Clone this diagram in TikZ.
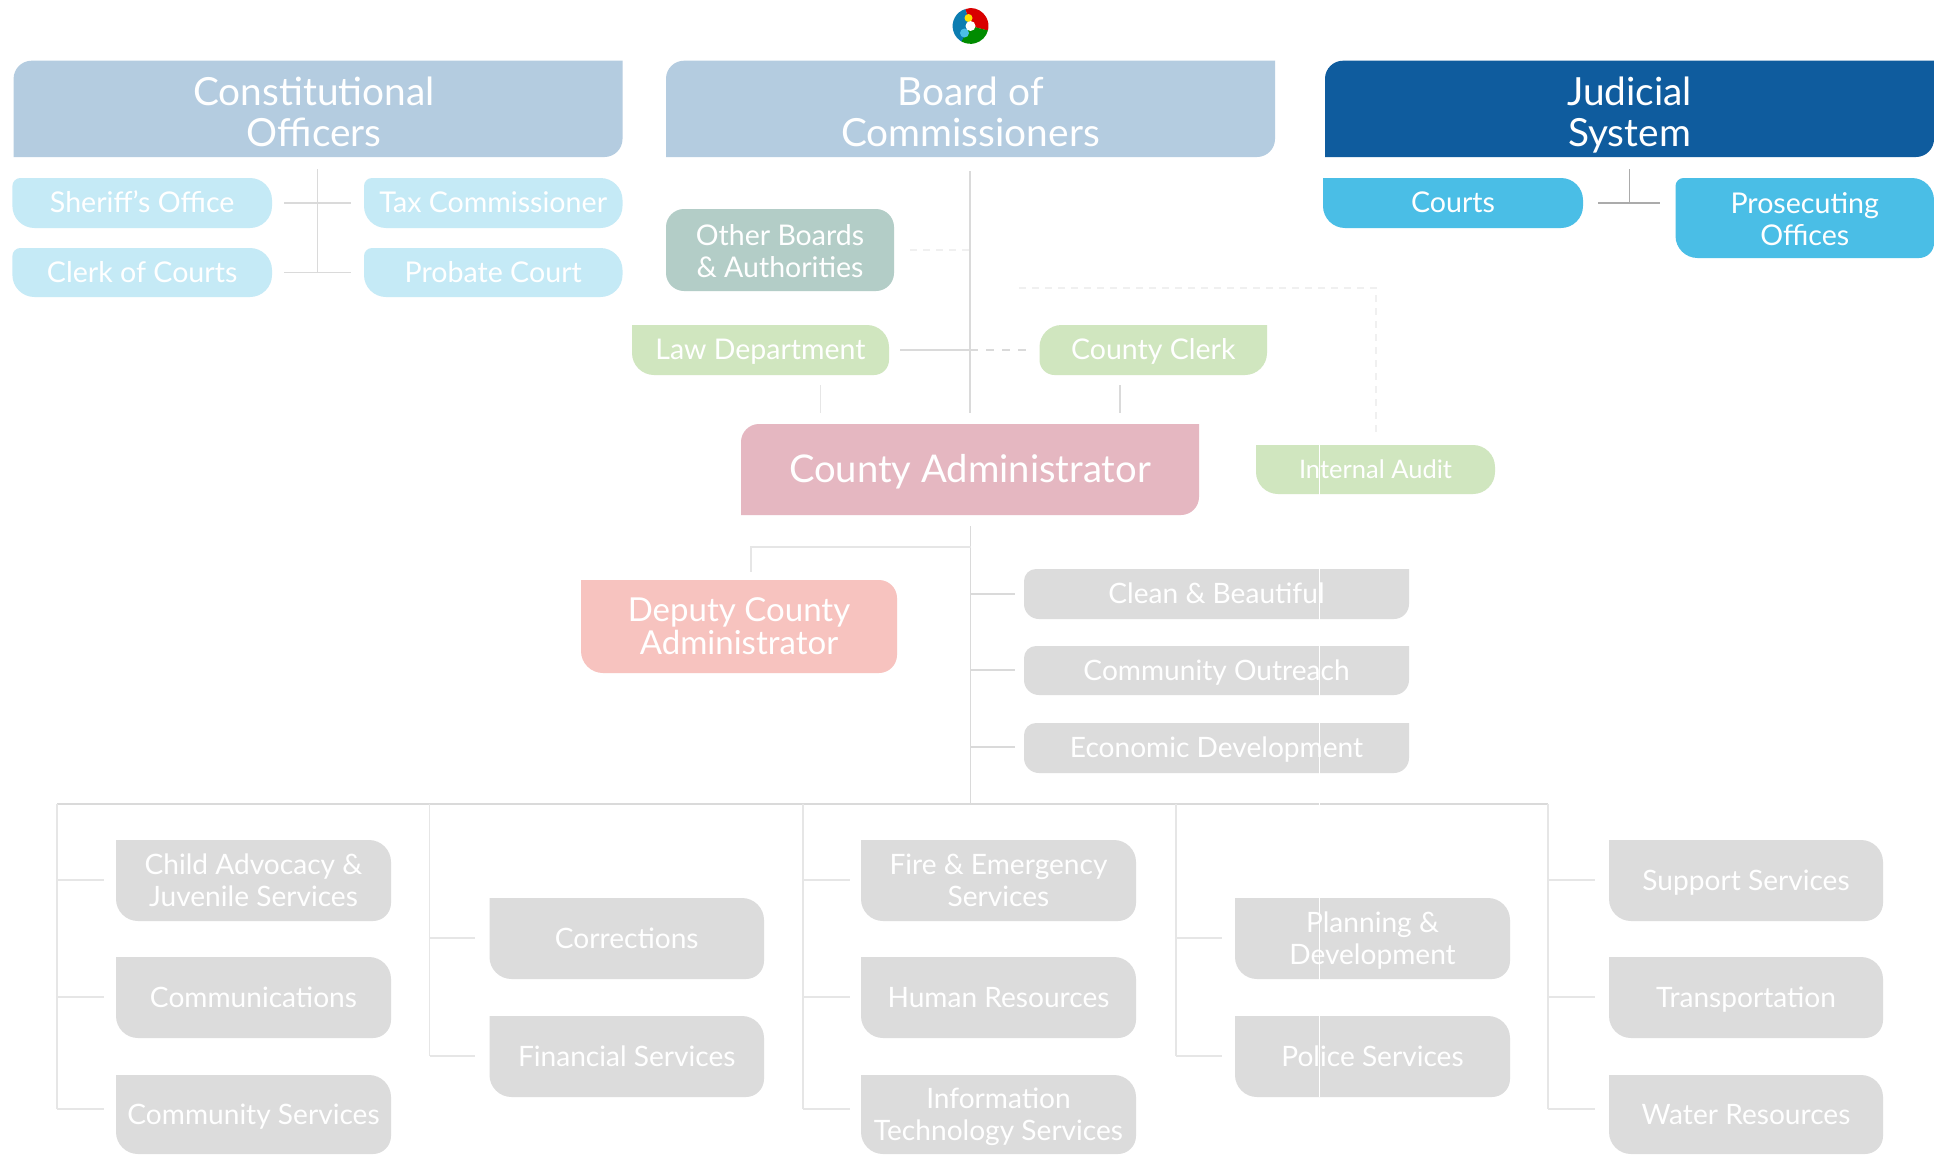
\documentclass[tikz,border=0pt]{standalone}
\usepackage{fontspec}
\setmainfont{Lato}
\usetikzlibrary{calc}
\definecolor{cHead}{HTML}{B4CCE0}
\definecolor{cJud}{HTML}{0F5C9E}
\definecolor{cCyan}{HTML}{C5EAF6}
\definecolor{cCourt}{HTML}{4ABEE6}
\definecolor{cOther}{HTML}{B3CDC7}
\definecolor{cGreen}{HTML}{D0E6BF}
\definecolor{cAdmin}{HTML}{E5B7C1}
\definecolor{cDep}{HTML}{F7C3BF}
\definecolor{cGrey}{HTML}{DCDCDC}
\definecolor{cLine}{HTML}{DADADA}
\definecolor{cSoft}{HTML}{E6E6E6}
\definecolor{cFaint}{HTML}{F0F0F0}
\definecolor{cDark}{HTML}{ABABAB}
\tikzset{
  x=1pt,y=-1pt,
  basebox/.style={text=white,align=center,font=\fontsize{28.1}{32}\selectfont},
  headbox/.style={basebox,fill=cHead,font=\fontsize{38.8}{41}\selectfont},
  judbox/.style={basebox,fill=cJud,font=\fontsize{38.8}{41}\selectfont},
  cyanbox/.style={basebox,fill=cCyan,font=\fontsize{28.6}{32}\selectfont},
  courtbox/.style={basebox,fill=cCourt,font=\fontsize{28.6}{32}\selectfont},
  otherbox/.style={basebox,fill=cOther,font=\fontsize{28.5}{32}\selectfont},
  greenbox/.style={basebox,fill=cGreen,font=\fontsize{28.5}{32}\selectfont},
  auditbox/.style={basebox,fill=cGreen,font=\fontsize{25.5}{32}\selectfont},
  adminbox/.style={basebox,fill=cAdmin,font=\fontsize{38.2}{41}\selectfont},
  depbox/.style={basebox,fill=cDep,font=\fontsize{33}{33}\selectfont},
  greybox/.style={basebox,fill=cGrey},
  conn/.style={draw=cLine,line width=1.2pt},
  softconn/.style={draw=cSoft,line width=1.2pt},
  darkconn/.style={draw=cDark,line width=1.2pt},
  faintdash/.style={draw=cFaint,line width=1.2pt,dash pattern=on 7pt off 6pt},
  greydash/.style={draw=cLine,line width=1.2pt,dash pattern=on 8pt off 8pt},
}
\def\parseR#1/#2/#3/#4\relax{\def\rTL{#1}\def\rTR{#2}\def\rBR{#3}\def\rBL{#4}}
\def\bxdx{0}
\def\bxdy{0}
% name, x1, y1, x2, y2, radii tl/tr/br/bl, style, text
\newcommand\bx[8]{%
  \edef\rTmp{#6}\expandafter\parseR\rTmp\relax
  \fill[#7] ({#2+\rTL},#3) -- ({#4-\rTR},#3)
    .. controls ({#4-0.45*\rTR},#3) and (#4,{#3+0.45*\rTR}) .. (#4,{#3+\rTR})
    -- (#4,{#5-\rBR})
    .. controls (#4,{#5-0.45*\rBR}) and ({#4-0.45*\rBR},#5) .. ({#4-\rBR},#5)
    -- ({#2+\rBL},#5)
    .. controls ({#2+0.45*\rBL},#5) and (#2,{#5-0.45*\rBL}) .. (#2,{#5-\rBL})
    -- (#2,{#3+\rTL})
    .. controls (#2,{#3+0.45*\rTL}) and ({#2+0.45*\rTL},#3) .. ({#2+\rTL},#3) -- cycle;
  \node[#7,fill=none,inner sep=0pt,minimum width={(#4-#2)*1pt},minimum height={(#5-#3)*1pt}]
    (#1) at ({(#2+#4)/2+\bxdx},{(#3+#5)/2+\bxdy}) {\rule[-.24em]{0pt}{1.16em}#8\rule[-.24em]{0pt}{.98em}};
}
\def\Rhead{18/0/18/0}
\def\Rpill{8/22/22/22}
\def\Rgrey{0/22/18/22}
\begin{document}
\begin{tikzpicture}
\useasboundingbox (0,0) rectangle (1934,1154);
\fill[white] (0,0) rectangle (1934,1154);

% logo
\begin{scope}[shift={(970.5,26)}]
  \fill[cJud!80!cyan] (0,0) -- (-5,-17) arc[start angle=-106,end angle=-245,radius=17.8] -- cycle;
  \fill[red!85!black] (0,0) -- (-5,-17) -- (0,-18) arc[start angle=-90,end angle=15,radius=18] -- cycle;
  \fill[green!55!black] (0,0) -- (17.4,4.5) arc[start angle=15,end angle=120,radius=18] -- cycle;
  \fill[cCourt] (-6,7) circle[radius=4.5];
  \fill[yellow!85!orange] (-2,-8) circle[radius=4];
  \fill[white] (0,0) circle[radius=5];
\end{scope}

% coordinates for connector ends
\coordinate (conTop) at (317.5,169);
\coordinate (conBot) at (317.5,273);
\coordinate (conA1) at (284,203);
\coordinate (conA2) at (351,203);
\coordinate (conB1) at (284,272.5);
\coordinate (conB2) at (351,272.5);
\coordinate (judTop) at (1629.6,169);
\coordinate (judJoin) at (1629.6,203);
\coordinate (judL) at (1598,203);
\coordinate (judR) at (1660,203);
\coordinate (trunkTop) at (970,171);
\coordinate (trunkBot) at (970,413);
\coordinate (lawEnd) at (900,350);
\coordinate (lawJoin) at (970,350);
\coordinate (clerkEnd) at (1033,350);
\coordinate (otherEnd) at (910,250);
\coordinate (otherJoin) at (970,250);
\coordinate (lawDn1) at (820.5,385);
\coordinate (lawDn2) at (820.5,413);
\coordinate (clkDn1) at (1120,385);
\coordinate (clkDn2) at (1120,413);
\coordinate (audA) at (1019,288);
\coordinate (audB) at (1376,288);
\coordinate (audC) at (1376,438);
\coordinate (adTop) at (970.5,526);
\coordinate (adJoin) at (970.5,547);
\coordinate (busJoin) at (970.5,804);
\coordinate (depA) at (751,547);
\coordinate (depB) at (751,572);
\coordinate (st1) at (970.5,594);\coordinate (st1e) at (1015,594);
\coordinate (st2) at (970.5,670);\coordinate (st2e) at (1015,670);
\coordinate (st3) at (970.5,747);\coordinate (st3e) at (1015,747);
\coordinate (busL) at (57,804);
\coordinate (busR) at (1548,804);
\coordinate (busB) at (429.5,804);
\coordinate (busC) at (803,804);
\coordinate (busD) at (1176,804);
\coordinate (w1) at (1319.6,445);
\coordinate (w2) at (1319.6,1097);

% connectors
\draw[conn] (conTop) -- (conBot);
\draw[conn] (conA1) -- (conA2);
\draw[conn] (conB1) -- (conB2);
\draw[darkconn] (judTop) -- (judJoin);
\draw[darkconn] (judL) -- (judR);
\draw[conn] (trunkTop) -- (trunkBot);
\draw[conn] (lawEnd) -- (lawJoin);
\draw[greydash] (lawJoin) -- (clerkEnd);
\draw[faintdash] (otherEnd) -- (otherJoin);
\draw[softconn] (lawDn1) -- (lawDn2);
\draw[conn] (clkDn1) -- (clkDn2);
\draw[faintdash] (audA) -- (audB) -- (audC);
\draw[conn] (adTop) -- (busJoin);
\draw[softconn] (adJoin) -- (depA) -- (depB);
\draw[conn] (st1) -- (st1e);
\draw[conn] (st2) -- (st2e);
\draw[conn] (st3) -- (st3e);
\draw[conn] (busL) -- (busR);
\foreach \nm/\xx/\bot in {busL/57/1109,busB/429.5/1056,busC/803/1109,busD/1176/1056,busR/1548/1109}{
  \coordinate (\nm e) at (\xx,\bot);
  \draw[softconn] (\nm) -- (\nm e);
}
\foreach \xx/\yy/\ee/\id in {57/880/104/a,57/997/104/b,57/1109/104/c,
   429.5/938/475/d,429.5/1056/475/e,
   803/880/850/f,803/997/850/g,803/1109/850/h,
   1176/938/1222/i,1176/1056/1222/j,
   1548/880/1595/k,1548/997/1595/l,1548/1109/1595/m}{
  \coordinate (s\id) at (\xx,\yy);
  \coordinate (t\id) at (\ee,\yy);
  \draw[softconn] (s\id) -- (t\id);
}

% header row
\def\bxdy{3.5}
\def\bxdx{-4}
\bx{constit}{13.6}{60.7}{622.5}{157}{\Rhead}{headbox}{Constitutional\\Officers}
\def\bxdx{0}
\bx{board}{666}{60.7}{1275}{157}{\Rhead}{headbox}{Board of\\Commissioners}
\bx{judicial}{1325}{60.7}{1934}{157}{\Rhead}{judbox}{Judicial\\System}
\def\bxdy{0}

% constitutional officers
\bx{sheriff}{12.4}{178}{272}{228}{\Rpill}{cyanbox}{Sheriff's Office}
\bx{tax}{364}{178}{622.5}{228}{\Rpill}{cyanbox}{Tax Commissioner}
\bx{clerk}{12.4}{248}{272}{297}{\Rpill}{cyanbox}{Clerk of Courts}
\bx{probate}{364}{248}{622.5}{297}{\Rpill}{cyanbox}{Probate Court}

% judicial
\bx{courts}{1323}{178}{1583}{228}{0/22/22/22}{courtbox}{Courts}
\def\bxdy{1.5}
\bx{prosec}{1675.5}{178}{1934}{258}{8/22/15/22}{courtbox}{Prosecuting\\Offices}

% board level
\def\bxdy{2}
\bx{other}{666}{209}{894}{291}{18/18/18/18}{otherbox}{Other Boards\\\& Authorities}
\def\bxdy{0}
\bx{law}{632}{325}{889}{375}{0/22/15/22}{greenbox}{Law Department}
\bx{cclerk}{1039.5}{325}{1267}{375}{22/0/22/15}{greenbox}{County Clerk}
\bx{admin}{741}{424}{1199}{515}{18/0/18/0}{adminbox}{County Administrator}
\bx{audit}{1256}{445}{1495}{494}{0/22/22/22}{auditbox}{Internal Audit}
\bx{deputy}{581}{580}{897}{673}{0/18/18/22}{depbox}{Deputy County\\Administrator}

% staff
\bx{clean}{1024}{569}{1409}{619}{12/0/15/15}{greybox}{Clean \& Beautiful}
\bx{outreach}{1024}{646}{1409}{695}{12/0/15/15}{greybox}{Community Outreach}
\bx{econ}{1024}{723}{1409}{773}{12/0/15/15}{greybox}{Economic Development}

% departments
\bx{child}{116}{840}{391}{921}{\Rgrey}{greybox}{Child Advocacy \&\\Juvenile Services}
\bx{comm}{116}{957}{391}{1038}{\Rgrey}{greybox}{Communications}
\bx{commsv}{116}{1075}{391}{1154}{\Rgrey}{greybox}{Community Services}
\bx{correct}{489.5}{898}{764}{979}{\Rgrey}{greybox}{Corrections}
\bx{finance}{489.5}{1016}{764}{1097}{\Rgrey}{greybox}{Financial Services}
\bx{fire}{861}{840}{1136}{921}{\Rgrey}{greybox}{Fire \& Emergency\\Services}
\bx{hr}{861}{957}{1136}{1038}{\Rgrey}{greybox}{Human Resources}
\bx{it}{861}{1075}{1136}{1154}{\Rgrey}{greybox}{Information\\Technology Services}
\bx{planning}{1235}{898}{1510}{979}{\Rgrey}{greybox}{Planning \&\\Development}
\bx{police}{1235}{1016}{1510}{1097}{\Rgrey}{greybox}{Police Services}
\bx{support}{1609}{840}{1883}{921}{\Rgrey}{greybox}{Support Services}
\bx{transp}{1609}{957}{1883}{1038}{\Rgrey}{greybox}{Transportation}
\bx{water}{1609}{1075}{1883}{1154}{\Rgrey}{greybox}{Water Resources}

% thin white seam across the boxes
\draw[white,line width=0.8pt] (w1) -- (w2);
\end{tikzpicture}
\end{document}
